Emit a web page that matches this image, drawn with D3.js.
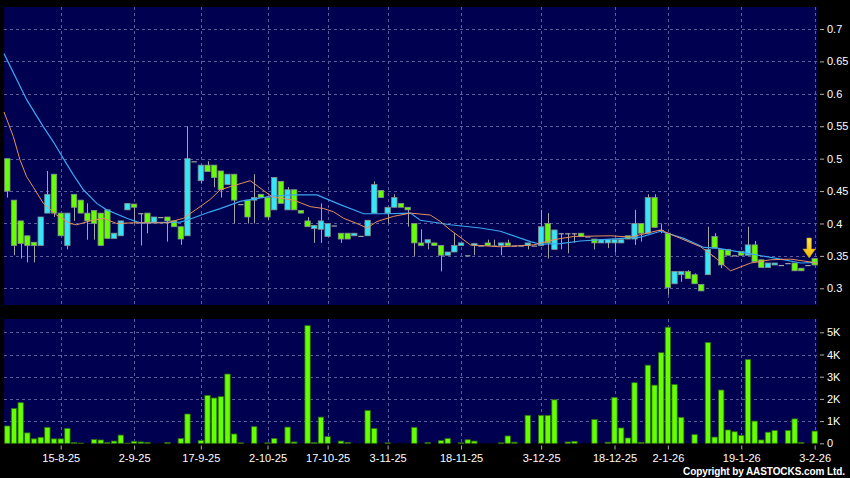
<!DOCTYPE html>
<html>
<head>
<meta charset="utf-8">
<script src="https://cdn.jsdelivr.net/npm/d3@7"></script>
<style>
html, body { margin: 0; padding: 0; background: #000; }
svg { display: block; font-family: "Liberation Sans", Arial, sans-serif; }
</style>
</head>
<body>
<svg id="chart" width="850" height="478"></svg>
<script>
(function () {
"use strict";

// daily candles, oldest first (price in HKD)
var opens = [
  .50,.436,.404,.381,.371,.366,.416,.476,.416,.366,
  .445,.436,.416,.42,.416,.421,.377,.381,.421,.43,
  .416,.416,.402,.41,.41,.404,.395,.381,.496,.466,
  .49,.49,.481,.46,.476,.43,.436,.436,.445,.44,
  .421,.465,.421,.452,.42,.404,.392,.391,.38,.397,
  .385,.385,.381,.381,.381,.416,.451,.416,.425,.431,
  .425,.40,.37,.37,.37,.366,.351,.356,.366,.351,
  .366,.366,.37,.366,.366,.37,.366,.366,.366,.366,
  .366,.40,.36,.385,.385,.385,.385,.38,.376,.37,
  .37,.37,.37,.381,.376,.40,.385,.44,.39,.385,
  .307,.321,.326,.321,.306,.321,.38,.36,.36,.351,
  .357,.351,.367,.344,.332,.336,.336,.339,.339,.331,
  .336,.346];
var highs = [
  .50,.436,.404,.381,.371,.41,.481,.476,.416,.416,
  .445,.436,.431,.42,.416,.421,.385,.404,.431,.43,
  .416,.416,.41,.41,.41,.404,.395,.55,.496,.49,
  .496,.49,.481,.476,.476,.43,.436,.476,.445,.44,
  .471,.465,.456,.452,.42,.41,.397,.431,.40,.397,
  .385,.385,.385,.381,.405,.465,.451,.425,.445,.431,
  .425,.40,.391,.375,.37,.366,.356,.385,.37,.351,
  .37,.366,.375,.375,.37,.375,.366,.366,.37,.366,
  .421,.416,.39,.385,.385,.385,.385,.38,.376,.375,
  .375,.375,.375,.381,.421,.40,.445,.445,.40,.385,
  .326,.326,.328,.323,.306,.395,.385,.36,.36,.351,
  .357,.395,.373,.344,.339,.339,.336,.339,.339,.331,
  .336,.346];
var lows = [
  .44,.351,.346,.34,.34,.366,.416,.41,.381,.36,
  .404,.416,.375,.375,.366,.377,.377,.381,.421,.40,
  .366,.385,.402,.41,.372,.395,.367,.381,.496,.462,
  .48,.456,.44,.46,.40,.43,.40,.40,.44,.405,
  .421,.431,.421,.421,.416,.395,.37,.37,.38,.397,
  .37,.376,.381,.381,.381,.416,.44,.40,.425,.425,
  .395,.35,.366,.36,.366,.326,.351,.356,.366,.351,
  .351,.366,.366,.366,.351,.366,.366,.366,.36,.366,
  .366,.346,.36,.36,.354,.37,.38,.38,.36,.37,
  .362,.355,.37,.376,.367,.372,.385,.394,.385,.29,
  .307,.31,.315,.307,.296,.321,.362,.331,.351,.351,
  .351,.351,.341,.332,.332,.336,.336,.339,.327,.327,
  .336,.336];
var closes = [
  .45,.366,.369,.366,.366,.41,.445,.416,.381,.416,
  .425,.416,.404,.40,.366,.377,.385,.404,.431,.425,
  .416,.401,.41,.41,.404,.395,.376,.50,.496,.49,
  .48,.471,.452,.476,.436,.43,.41,.44,.44,.41,
  .471,.431,.452,.421,.416,.395,.397,.404,.40,.397,
  .376,.376,.385,.381,.405,.46,.44,.425,.44,.425,
  .421,.37,.366,.375,.366,.351,.356,.366,.37,.351,
  .369,.366,.366,.366,.37,.366,.366,.366,.37,.366,
  .395,.37,.39,.385,.385,.385,.38,.38,.37,.375,
  .375,.375,.375,.376,.40,.385,.44,.394,.39,.301,
  .326,.326,.315,.307,.296,.36,.362,.336,.351,.351,
  .351,.367,.341,.332,.339,.339,.336,.339,.327,.327,
  .336,.336];
// volume in thousands of shares
var volumes = [
  .78,1.57,1.83,.47,.20,.27,.72,.20,.20,.67,
  .03,.01,0,.17,.15,.03,.10,.37,.01,.09,
  .06,.04,0,0,.03,0,.22,1.32,0,.13,
  2.16,2.04,2.10,3.12,.42,.02,0,.75,0,.02,
  .22,0,.73,.06,0,5.3,.03,1.18,.30,0,
  .10,.04,0,0,1.48,.67,0,.02,0,0,
  0,.72,0,.03,0,.12,.22,0,.02,.16,
  .10,0,0,0,.02,.33,.05,0,1.26,0,
  1.26,1.26,1.96,0,.06,.09,0,0,1.07,0,
  .05,2.07,.69,.24,2.73,.04,3.52,2.62,4.08,5.23,
  2.65,1.17,0,.39,0,4.54,.28,2.4,.6,.52,
  .35,3.78,1.0,.15,.5,.58,0,.58,1.1,.03,
  0,.55];

// moving averages: [day index, value]
var maShort = [[-0.5,.572],[0.9,.534],[1.9,.498],[2.9,.472],[3.9,.456],[5.4,.431],[7.4,.413],
  [9.4,.40],[10.4,.398],[12.4,.404],[14.4,.408],[16.4,.40],[18.9,.401],[23.9,.401],[26.4,.408],
  [28.9,.426],[30.4,.437],[31.9,.452],[36.4,.466],[39.7,.441],[42.9,.436],[45.4,.426],[47.4,.423],
  [48.9,.418],[50.4,.408],[52.4,.40],[53.9,.393],[55.4,.403],[57.9,.411],[60.4,.416],[63.4,.413],
  [64.9,.403],[66.4,.39],[69.4,.367],[73.9,.364],[78.9,.367],[81.9,.375],[84.9,.38],[90.4,.381],
  [93.4,.379],[97.9,.39],[103.9,.364],[105.9,.349],[108.4,.327],[111.4,.339],[114.4,.344],
  [117.4,.345],[121.5,.339]];
var maLong = [[-0.5,.662],[2.9,.591],[5.4,.549],[6.9,.526],[8.4,.50],[9.9,.475],[11.4,.452],
  [13.4,.431],[14.9,.421],[17.9,.408],[19.9,.401],[25.9,.402],[26.9,.405],[30.4,.418],[31.9,.423],
  [34.9,.434],[39.4,.442],[42.9,.444],[46.4,.444],[49.9,.429],[53.4,.415],[56.9,.415],[60.4,.416],
  [61.9,.405],[66.4,.398],[70.9,.393],[73.9,.388],[78.4,.372],[79.9,.368],[82.9,.369],[85.9,.373],
  [90.4,.376],[94.9,.379],[97.9,.388],[101.4,.377],[104.4,.363],[106.4,.362],[111.4,.353],
  [115.9,.345],[118.9,.339],[121.5,.34]];

var dateTicks = [8, 19, 29, 39, 48, 57, 68, 80, 91, 99, 110, 121];
var dateLabels = ["15-8-25","2-9-25","17-9-25","2-10-25","17-10-25","3-11-25",
  "18-11-25","3-12-25","18-12-25","2-1-26","19-1-26","3-2-26"];
var priceTicks = [0.3, 0.35, 0.4, 0.45, 0.5, 0.55, 0.6, 0.65, 0.7];
var volTicks = [0, 1, 2, 3, 4, 5];
var volLabels = ["0", "1K", "2K", "3K", "4K", "5K"];

var W = 850, H = 478,
	left = 4, right = 818,
	pTop = 7, pBot = 305,
	vTop = 319, vBot = 443.3;
var navy = "#000050", gridC = "#5c5c9c",
	upC = "#33e6f8", downC = "#66ff00", wickC = "#a4a4a4";

var svg = d3.select("#chart");
svg.append("rect").attr("width", W).attr("height", H).attr("fill", "#000");

var n = closes.length;
var x = d3.scaleLinear().domain([-0.5, n - 0.5]).range([left, right]);
var bw = (right - left) / n * 0.8;
var y = d3.scaleLinear().domain([0.3, 0.7]).range([288.3, 29]);
var yv = d3.scaleLinear().domain([0, 5]).range([vBot, vBot - 5 * 22.2]);

// panels
svg.append("rect").attr("x", left).attr("y", pTop).attr("width", right - left).attr("height", pBot - pTop).attr("fill", navy);
svg.append("rect").attr("x", left).attr("y", vTop).attr("width", right - left).attr("height", vBot - vTop).attr("fill", navy);

// grid
var grid = svg.append("g").attr("stroke", gridC).attr("stroke-width", 1).attr("stroke-dasharray", "3,3");
grid.selectAll(".hp").data(priceTicks).enter().append("line")
	.attr("x1", left).attr("x2", right)
	.attr("y1", function (d) { return Math.round(y(d)) + 0.5; })
	.attr("y2", function (d) { return Math.round(y(d)) + 0.5; });
grid.selectAll(".hv").data(volTicks.slice(1)).enter().append("line")
	.attr("x1", left).attr("x2", right)
	.attr("y1", function (d) { return Math.round(yv(d)) + 0.5; })
	.attr("y2", function (d) { return Math.round(yv(d)) + 0.5; });
grid.selectAll(".vp").data(dateTicks).enter().append("line")
	.attr("x1", function (d) { return Math.round(x(d)) + 0.5; })
	.attr("x2", function (d) { return Math.round(x(d)) + 0.5; })
	.attr("y1", pTop).attr("y2", pBot);
grid.selectAll(".vv").data(dateTicks).enter().append("line")
	.attr("x1", function (d) { return Math.round(x(d)) + 0.5; })
	.attr("x2", function (d) { return Math.round(x(d)) + 0.5; })
	.attr("y1", vTop).attr("y2", vBot);

// candles
var idx = d3.range(n);
var cg = svg.append("g");
cg.selectAll(".wick").data(idx).enter().append("line")
	.attr("x1", function (i) { return Math.round(x(i)) + 0.5; })
	.attr("x2", function (i) { return Math.round(x(i)) + 0.5; })
	.attr("y1", function (i) { return y(highs[i]); })
	.attr("y2", function (i) { return y(lows[i]); })
	.attr("stroke", wickC).attr("stroke-width", 1);
cg.selectAll(".body").data(idx).enter().append("rect")
	.attr("x", function (i) { return x(i) - bw / 2; })
	.attr("width", bw)
	.attr("y", function (i) { return y(Math.max(opens[i], closes[i])); })
	.attr("height", function (i) { return Math.max(1.2, Math.abs(y(opens[i]) - y(closes[i]))); })
	.attr("fill", function (i) {
		if (closes[i] > opens[i]) return upC;
		if (closes[i] < opens[i]) return downC;
		return wickC;
	})
	.attr("stroke", function (i) { return closes[i] === opens[i] ? "none" : "#86908a"; })
	.attr("stroke-width", 0.8);

// moving averages
var line = d3.line().x(function (d) { return x(d[0]); }).y(function (d) { return y(d[1]); });
svg.append("path").datum(maLong).attr("d", line).attr("fill", "none")
	.attr("stroke", "#3aa6f0").attr("stroke-width", 1.2);
svg.append("path").datum(maShort).attr("d", line).attr("fill", "none")
	.attr("stroke", "#e8905a").attr("stroke-width", 1);

// last price marker
var defs = svg.append("defs");
var grad = defs.append("linearGradient").attr("id", "arrowGrad").attr("x1", 0).attr("x2", 0).attr("y1", 0).attr("y2", 1);
grad.append("stop").attr("offset", "0%").attr("stop-color", "#ffe84a");
grad.append("stop").attr("offset", "100%").attr("stop-color", "#f2b400");
svg.append("path")
	.attr("transform", "translate(" + (x(n - 1) - 5.5) + "," + (y(highs[n - 1]) - 0.5) + ")")
	.attr("d", "M-2.3,-20 h4.6 v11 h4 L0,0 L-6.3,-9 h4 Z")
	.attr("fill", "url(#arrowGrad)").attr("stroke", "#c88a00").attr("stroke-width", 0.5);

// volume bars
svg.append("g").selectAll("rect").data(idx.filter(function (i) { return volumes[i] > 0; }))
	.enter().append("rect")
	.attr("x", function (i) { return x(i) - bw / 2; })
	.attr("width", bw)
	.attr("y", function (i) { return yv(volumes[i]); })
	.attr("height", function (i) { return vBot - yv(volumes[i]); })
	.attr("fill", downC).attr("stroke", "#2f6e0c").attr("stroke-width", 0.8);

// axes
function styleAxis(g) {
	g.select(".domain").remove();
	g.selectAll(".tick line").attr("stroke", "#b0b0b0");
	g.selectAll(".tick text").attr("fill", "#fff").style("font-size", "11px");
}
svg.append("g").attr("transform", "translate(820,0)")
	.call(d3.axisRight(y).tickValues(priceTicks).tickSize(4).tickPadding(3)
		.tickFormat(function (d) { return String(+d.toFixed(2)); }))
	.call(styleAxis);
svg.append("g").attr("transform", "translate(820,0)")
	.call(d3.axisRight(yv).tickValues(volTicks).tickSize(4).tickPadding(3)
		.tickFormat(function (d, i) { return volLabels[i]; }))
	.call(styleAxis);
svg.append("g").attr("transform", "translate(0,445.5)")
	.call(d3.axisBottom(x).tickValues(dateTicks).tickSize(4).tickPadding(5)
		.tickFormat(function (d, i) { return dateLabels[i]; }))
	.call(styleAxis);

svg.append("text")
	.attr("x", 845).attr("y", 475)
	.attr("text-anchor", "end")
	.attr("fill", "#fff")
	.style("font-size", "10px").style("font-weight", "bold")
	.attr("textLength", 162).attr("lengthAdjust", "spacing")
	.text("Copyright by AASTOCKS.com Ltd.");

})();
</script>
</body>
</html>
